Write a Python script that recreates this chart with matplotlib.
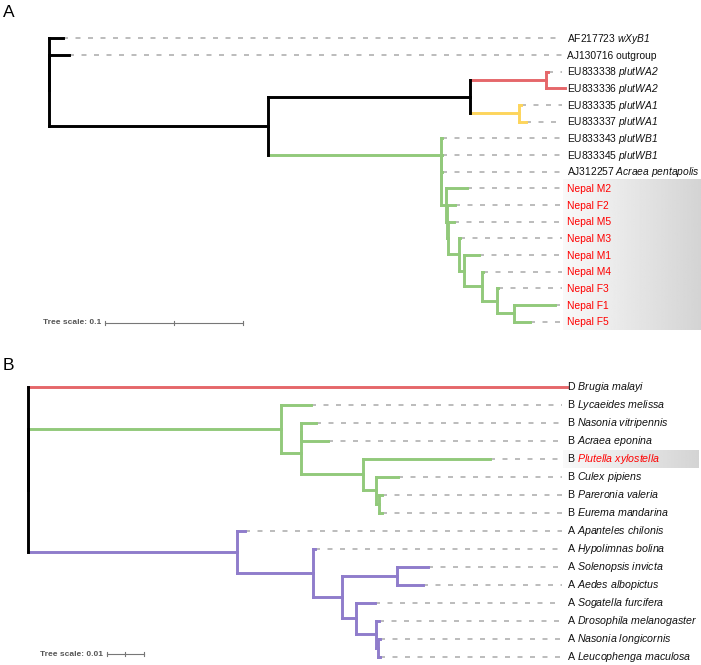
import matplotlib
matplotlib.use("Agg")
import matplotlib.pyplot as plt
import numpy as np
from matplotlib.transforms import blended_transform_factory, ScaledTranslation

plt.rcParams['font.family'] = ['Liberation Sans', 'DejaVu Sans']
plt.rcParams['lines.scale_dashes'] = False
plt.rcParams['mathtext.fontset'] = 'custom'
plt.rcParams['mathtext.rm'] = 'Liberation Sans'
plt.rcParams['mathtext.it'] = 'Liberation Sans:italic'
plt.rcParams['mathtext.sf'] = 'Liberation Sans:italic'
plt.rcParams['mathtext.bf'] = 'Liberation Sans:bold'

# ---------------- DATA ----------------
# Panel A tree: edges (child, parent, branch length, clade colour key)
A_child = ['AF217723', 'zA', 'AJ130716', 'W', 'P', 'Red', 'EU833338', 'EU833336',
           'Yel', 'EU833335', 'EU833337', 'N0', 'EU833343', 'X', 'EU833345', 'Y',
           'AJ312257', 'Na', 'Nepal M2', 'Nb', 'Nepal F2', 'N2', 'Nepal M5', 'N3',
           'Nepal M3', 'N4', 'Nepal M1', 'N5', 'Nepal M4', 'N6', 'Nepal F3', 'N7',
           'Nepal F1', 'Nepal F5']
A_parent = ['rA', 'rA', 'zA', 'zA', 'W', 'P', 'Red', 'Red',
            'P', 'Yel', 'Yel', 'W', 'N0', 'N0', 'X', 'X',
            'Y', 'Y', 'Na', 'Na', 'Nb', 'Nb', 'N2', 'N2',
            'N3', 'N3', 'N4', 'N4', 'N5', 'N5', 'N6', 'N6',
            'N7', 'N7']
A_length = [0.0101, 0.0, 0.0145, 0.1587, 0.1464, 0.0551, 0.0014, 0.0138,
            0.0355, 0.0014, 0.0051, 0.1250, 0.0011, 0.0, 0.0011, 0.0,
            0.0011, 0.0040, 0.0152, 0.0004, 0.0062, 0.0011, 0.0043, 0.0080,
            0.0007, 0.0036, 0.0109, 0.0130, 0.0007, 0.0109, 0.0007, 0.0123,
            0.0297, 0.0116]
A_clade = ['k', 'k', 'k', 'k', 'k', 'r', 'r', 'r',
           'y', 'y', 'y', 'g', 'g', 'g', 'g', 'g',
           'g', 'g', 'g', 'g', 'g', 'g', 'g', 'g',
           'g', 'g', 'g', 'g', 'g', 'g', 'g', 'g',
           'g', 'g']
A_root = 'rA'
A_root_clade = 'k'

# Panel A leaf labels
A_leaf = ['AF217723', 'AJ130716', 'EU833338', 'EU833336', 'EU833335', 'EU833337',
          'EU833343', 'EU833345', 'AJ312257', 'Nepal M2', 'Nepal F2', 'Nepal M5',
          'Nepal M3', 'Nepal M1', 'Nepal M4', 'Nepal F3', 'Nepal F1', 'Nepal F5']
A_leaf_name = ['wXyB1', 'outgroup', 'plutWA2', 'plutWA2', 'plutWA1', 'plutWA1',
               'plutWB1', 'plutWB1', 'Acraea pentapolis', '', '', '', '', '', '', '', '', '']
A_leaf_italic = [True, False, True, True, True, True, True, True, True,
                 False, False, False, False, False, False, False, False, False]
A_leaf_red = ['Nepal M2', 'Nepal F2', 'Nepal M5', 'Nepal M3', 'Nepal M1',
              'Nepal M4', 'Nepal F3', 'Nepal F1', 'Nepal F5']
A_highlight = ['Nepal M2', 'Nepal F5']
A_scale_value = 0.1
A_scale_label = 'Tree scale: 0.1'

# Panel B tree
B_child = ['Brugia malayi', 'R1', 'G0', 'Lycaeides melissa', 'G1', 'G1b',
           'Nasonia vitripennis', 'Acraea eponina', 'G2', 'Plutella xylostella', 'G3',
           'Culex pipiens', 'G4', 'Pareronia valeria', 'Eurema mandarina',
           'P0', 'Apanteles chilonis', 'P1', 'Hypolimnas bolina', 'P2', 'P3',
           'Solenopsis invicta', 'Aedes albopictus', 'P4', 'Sogatella furcifera', 'P5',
           'Drosophila melanogaster', 'P6', 'Nasonia longicornis', 'Leucophenga maculosa']
B_parent = ['rB', 'rB', 'R1', 'G0', 'G0', 'G1',
            'G1b', 'G1b', 'G1', 'G2', 'G2',
            'G3', 'G3', 'G4', 'G4',
            'R1', 'P0', 'P0', 'P1', 'P1', 'P2',
            'P3', 'P3', 'P2', 'P4', 'P4',
            'P5', 'P5', 'P6', 'P6']
B_length = [0.1469, 0.0, 0.0689, 0.0082, 0.0054, 0.0,
            0.0041, 0.0074, 0.0169, 0.0346, 0.0037,
            0.0060, 0.0008, 0.0008, 0.0008,
            0.0569, 0.0022, 0.0207, 0.0005, 0.0080, 0.0150,
            0.0083, 0.0069, 0.0037, 0.0052, 0.0056,
            0.0008, 0.0005, 0.0005, 0.0005]
B_clade = ['r', 'k', 'g', 'g', 'g', 'g',
           'g', 'g', 'g', 'g', 'g',
           'g', 'g', 'g', 'g',
           'p', 'p', 'p', 'p', 'p', 'p',
           'p', 'p', 'p', 'p', 'p',
           'p', 'p', 'p', 'p']
B_root = 'rB'
B_root_clade = 'k'

B_leaf = ['Brugia malayi', 'Lycaeides melissa', 'Nasonia vitripennis', 'Acraea eponina',
          'Plutella xylostella', 'Culex pipiens', 'Pareronia valeria', 'Eurema mandarina',
          'Apanteles chilonis', 'Hypolimnas bolina', 'Solenopsis invicta', 'Aedes albopictus',
          'Sogatella furcifera', 'Drosophila melanogaster', 'Nasonia longicornis',
          'Leucophenga maculosa']
B_supergroup = ['D', 'B', 'B', 'B', 'B', 'B', 'B', 'B',
                'A', 'A', 'A', 'A', 'A', 'A', 'A', 'A']
B_leaf_red = ['Plutella xylostella']
B_highlight = ['Plutella xylostella', 'Plutella xylostella']
B_scale_value = 0.01
B_scale_label = 'Tree scale: 0.01'

# ---------------- STYLE / LAYOUT ----------------
COLORS = {'k': '#000000', 'r': '#E5676A', 'y': '#FDD55C', 'g': '#92C97B', 'p': '#8F7CCB'}
DASH_COLOR = '#AAAAAA'
TEXT_COLOR = '#111111'
W_PX, H_PX = 701, 665
LABEL_X_PX = 567
LEADER_END_PX = 561.5
HL_X0_PX = 563
FS_A = 7.35
FS_B = 7.7
BASELINE_DROP_PX = 3.8
BRANCH_LW = 2.1

fig = plt.figure(figsize=(W_PX / 100, H_PX / 100), dpi=100)
renderer = fig.canvas.get_renderer()


def make_axes(root_px, px_per_unit, row0_px, row_px):
    ax = fig.add_axes([0, 0, 1, 1])
    ax.set_xlim(-root_px / px_per_unit, (W_PX - root_px) / px_per_unit)
    ax.set_ylim((H_PX - row0_px) / row_px, -row0_px / row_px)
    ax.axis('off')
    ax.patch.set_alpha(0)
    return ax


def px2x(ax, px):
    x0, x1 = ax.get_xlim()
    return x0 + px / W_PX * (x1 - x0)


def layout(child, parent, length, root):
    kids = {}
    blen = {}
    for c, p, l in zip(child, parent, length):
        kids.setdefault(p, []).append(c)
        blen[c] = l
    x = {root: 0.0}
    y = {}
    order = []

    def rec(n):
        ks = kids.get(n, [])
        for k in ks:
            x[k] = x[n] + blen[k]
            rec(k)
        if not ks:
            y[n] = len(order)
            order.append(n)
        else:
            y[n] = (y[ks[0]] + y[ks[-1]]) / 2.0

    rec(root)
    return kids, x, y, order


def draw_tree(ax, child, parent, length, clade, root, root_clade):
    kids, x, y, order = layout(child, parent, length, root)
    col = {c: COLORS[k] for c, k in zip(child, clade)}
    col[root] = COLORS[root_clade]
    par = dict(zip(child, parent))
    lead_end = px2x(ax, LEADER_END_PX)
    for leaf in order:
        if x[leaf] < lead_end - 1e-6:
            ax.plot([x[leaf], lead_end], [y[leaf], y[leaf]], color=DASH_COLOR,
                    lw=1.1, dashes=(3.6, 5.4), zorder=1, dash_capstyle='butt')
    for c in child:
        p = par[c]
        ax.plot([x[p], x[c]], [y[c], y[c]], color=col[c], lw=BRANCH_LW,
                solid_capstyle='projecting', zorder=3)
    for n, ks in kids.items():
        ax.plot([x[n], x[n]], [y[ks[0]], y[ks[-1]]], color=col[n], lw=BRANCH_LW,
                solid_capstyle='projecting', zorder=3)
    return y


def italic(s):
    return r'$\mathsf{' + s.replace(' ', r'\ ') + '}$'


def label_transform(ax, dx_px=0.0):
    tr = blended_transform_factory(ax.transAxes, ax.transData)
    return tr + ScaledTranslation(dx_px / 100.0, -BASELINE_DROP_PX / 100.0,
                                  fig.dpi_scale_trans)


def put_label(ax, yrow, s, color, fs, dx_px=0.0):
    return ax.text(LABEL_X_PX / W_PX, yrow, s, transform=label_transform(ax, dx_px),
                   ha='left', va='baseline', fontsize=fs, color=color, zorder=5)


def text_width_px(s, fs):
    t = fig.text(0, 0, s, fontsize=fs)
    w = t.get_window_extent(renderer).width
    t.remove()
    return w


def draw_highlight(ax, yfirst, ylast, x1_px):
    grad = np.linspace(0.975, 0.83, 256).reshape(1, -1)
    x0 = px2x(ax, HL_X0_PX)
    x1 = px2x(ax, x1_px)
    xl, yl = ax.get_xlim(), ax.get_ylim()
    ax.imshow(grad, extent=[x0, x1, ylast + 0.5, yfirst - 0.5], aspect='auto',
              cmap='gray', vmin=0, vmax=1, zorder=0, interpolation='bilinear')
    ax.set_xlim(xl)
    ax.set_ylim(yl)


def draw_scale(ax, value, label, x0_px, y_px):
    tr = blended_transform_factory(ax.transData, ax.transAxes)
    yf = 1 - y_px / H_PX
    x0 = px2x(ax, x0_px)
    x1 = x0 + value
    ax.plot([x0, x1], [yf, yf], transform=tr, color='#777777', lw=0.8, zorder=4)
    tick = 2.0 / H_PX
    for xt in (x0, (x0 + x1) / 2, x1):
        ax.plot([xt, xt], [yf - tick, yf + tick], transform=tr, color='#777777',
                lw=0.8, zorder=4)
    tr2 = blended_transform_factory(ax.transAxes, ax.transAxes)
    ax.text((x0_px - 4) / W_PX, yf, label, transform=tr2, ha='right', va='center',
            fontsize=6.0, fontweight='bold', color='#555555')


# ---------------- PANEL A ----------------
axA = make_axes(root_px=49, px_per_unit=1380, row0_px=38.3, row_px=16.67)
yA = draw_tree(axA, A_child, A_parent, A_length, A_clade, A_root, A_root_clade)
draw_highlight(axA, yA[A_highlight[0]], yA[A_highlight[1]], 701)
for leaf, name, ital in zip(A_leaf, A_leaf_name, A_leaf_italic):
    color = '#FF0000' if leaf in A_leaf_red else TEXT_COLOR
    if name:
        s = leaf + ' ' + (italic(name) if ital else name)
    else:
        s = leaf
    put_label(axA, yA[leaf], s, color, FS_A)
draw_scale(axA, A_scale_value, A_scale_label, 105, 322.7)
fig.text(2.5 / W_PX, 1 - 17 / H_PX, 'A', fontsize=12.5, ha='left', va='baseline')

# ---------------- PANEL B ----------------
axB = make_axes(root_px=28, px_per_unit=3670, row0_px=386.7, row_px=18.0)
yB = draw_tree(axB, B_child, B_parent, B_length, B_clade, B_root, B_root_clade)
draw_highlight(axB, yB[B_highlight[0]], yB[B_highlight[1]], 698)
for leaf, sg in zip(B_leaf, B_supergroup):
    if leaf in B_leaf_red:
        # supergroup letter in black, species name in red right after it
        full = text_width_px(sg + ' ' + italic(leaf), FS_B)
        only = text_width_px(italic(leaf), FS_B)
        put_label(axB, yB[leaf], sg, TEXT_COLOR, FS_B)
        put_label(axB, yB[leaf], italic(leaf), '#FF0000', FS_B, dx_px=full - only)
    else:
        put_label(axB, yB[leaf], sg + ' ' + italic(leaf), TEXT_COLOR, FS_B)
draw_scale(axB, B_scale_value, B_scale_label, 107, 654.3)
fig.text(2.5 / W_PX, 1 - 370 / H_PX, 'B', fontsize=12.5, ha='left', va='baseline')

fig.savefig('out.png', dpi=100)
